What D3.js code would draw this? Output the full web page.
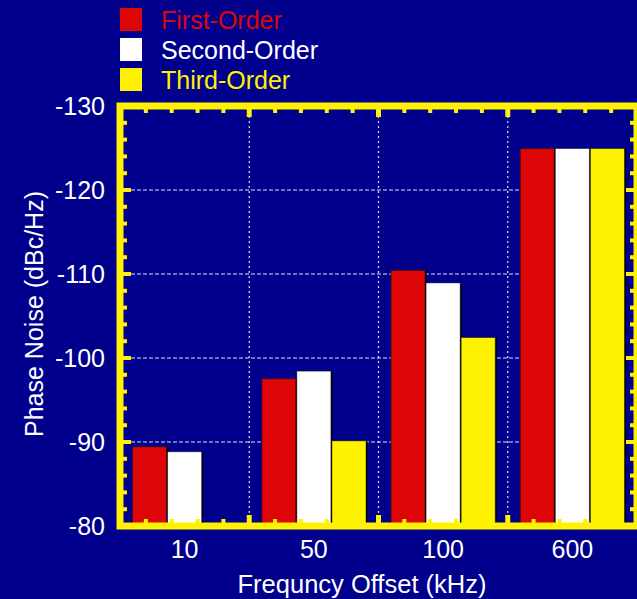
<!DOCTYPE html>
<html>
<head>
<meta charset="utf-8">
<script src="https://cdn.jsdelivr.net/npm/d3@7"></script>
<style>
  html, body { margin: 0; padding: 0; background: #00008C; overflow: hidden; }
  svg { display: block; font-family: "Liberation Sans", Arial, sans-serif; }
</style>
</head>
<body>
<svg id="chart" width="637" height="599"></svg>
<script>
// Phase noise at each frequency offset, by loop order
const offsets = ["10", "50", "100", "600"];
const seriesNames = ["First-Order", "Second-Order", "Third-Order"];
const firstOrder  = [-89.5, -97.6, -110.5, -125];
const secondOrder = [-88.9, -98.5, -109.0, -125];
const thirdOrder  = [null,  -90.2, -102.5, -125];
const yTicks = [-80, -90, -100, -110, -120, -130];

const colors = ["#DD0505", "#FFFFFF", "#FFF200"];
const legendText = ["#DD0505", "#FFFFFF", "#FFF200"];
const seriesValues = [firstOrder, secondOrder, thirdOrder];

const W = 637, H = 599;
const plot = { left: 120, right: 637, top: 106, bottom: 526 };
const svg = d3.select("#chart");

svg.append("rect").attr("width", W).attr("height", H).attr("fill", "#00008C");

const x = d3.scaleBand().domain(offsets).range([plot.left, plot.right]).padding(0);
const band = x.bandwidth();
const xs = d3.scaleBand().domain(seriesNames).range([12, band - 12]).padding(0);
const y = d3.scaleLinear().domain([-80, -130]).range([plot.bottom, plot.top]);

// grid
const grid = svg.append("g");
grid.selectAll("line.h").data(yTicks.filter(t => t !== -80 && t !== -130)).join("line")
  .attr("x1", plot.left + 11).attr("x2", plot.right - 11)
  .attr("y1", d => y(d)).attr("y2", d => y(d))
  .attr("stroke", "#E0E0F0").attr("stroke-width", 1.2).attr("stroke-dasharray", "4,2");
grid.selectAll("line.v").data(offsets.slice(1)).join("line")
  .attr("x1", d => x(d)).attr("x2", d => x(d))
  .attr("y1", plot.top + 10).attr("y2", plot.bottom - 10)
  .attr("stroke", "#E0E0F0").attr("stroke-width", 1.2).attr("stroke-dasharray", "2,3");

// bars
const rows = [];
offsets.forEach((o, i) => seriesNames.forEach((s, j) => {
  const v = seriesValues[j][i];
  if (v !== null) rows.push({ o, s, v, c: colors[j] });
}));
const bars = svg.append("g");
bars.selectAll("rect.shadow").data(rows).join("rect")
  .attr("x", d => x(d.o) + xs(d.s) + 1)
  .attr("y", d => y(d.v) + 1)
  .attr("width", xs.bandwidth())
  .attr("height", d => y(-80) - y(d.v))
  .attr("fill", "#000");
bars.selectAll("rect.bar").data(rows).join("rect")
  .attr("x", d => x(d.o) + xs(d.s) + 0.5)
  .attr("y", d => y(d.v) + 0.5)
  .attr("width", xs.bandwidth() - 1)
  .attr("height", d => y(-80) - y(d.v))
  .attr("fill", d => d.c)
  .attr("stroke", "rgba(0,0,0,0.45)").attr("stroke-width", 1);

// frame and ticks
const yellow = "#FFF200";
const frame = svg.append("g");
const minorY = d3.range(-80, -131, -2);
const minorX = [];
offsets.forEach(o => { for (let k = 1; k < 5; k++) minorX.push(x(o) + band * k / 5); });
const majorX = offsets.slice(1).map(o => x(o));

// left & right ticks
[[plot.left, 1], [plot.right, -1]].forEach(([bx, dir]) => {
  frame.selectAll(null).data(minorY).join("line")
    .attr("x1", bx).attr("x2", d => bx + dir * (d % 10 === 0 ? 11 : 7))
    .attr("y1", d => y(d)).attr("y2", d => y(d))
    .attr("stroke", yellow).attr("stroke-width", 4);
});
// top & bottom ticks
[[plot.top, 1], [plot.bottom, -1]].forEach(([by, dir]) => {
  frame.selectAll(null).data(minorX).join("line")
    .attr("x1", d => d).attr("x2", d => d)
    .attr("y1", by).attr("y2", by + dir * 7)
    .attr("stroke", yellow).attr("stroke-width", 4);
  frame.selectAll(null).data(majorX).join("line")
    .attr("x1", d => d).attr("x2", d => d)
    .attr("y1", by).attr("y2", by + dir * 11)
    .attr("stroke", yellow).attr("stroke-width", 5);
});
frame.append("rect")
  .attr("x", plot.left).attr("y", plot.top)
  .attr("width", plot.right - plot.left).attr("height", plot.bottom - plot.top)
  .attr("fill", "none").attr("stroke", yellow).attr("stroke-width", 7);

// axis labels
const yAxis = d3.axisLeft(y).tickValues(yTicks).tickFormat(d => String(d))
  .tickSize(0).tickPadding(15);
const ya = svg.append("g").attr("transform", `translate(${plot.left},0)`).call(yAxis);
ya.select(".domain").remove();
ya.selectAll("text").attr("fill", "#fff").attr("font-size", 25)
  .attr("font-family", "Liberation Sans, Arial, sans-serif");

const xAxis = d3.axisBottom(x).tickSize(0).tickPadding(14);
const xa = svg.append("g").attr("transform", `translate(0,${plot.bottom})`).call(xAxis);
xa.select(".domain").remove();
xa.selectAll("text").attr("fill", "#fff").attr("font-size", 25)
  .attr("font-family", "Liberation Sans, Arial, sans-serif");

svg.append("text").attr("x", 362).attr("y", 593).attr("text-anchor", "middle")
  .attr("fill", "#fff").attr("font-size", 25.5).text("Frequncy Offset (kHz)");
svg.append("text").attr("transform", "translate(43,314) rotate(-90)")
  .attr("text-anchor", "middle").attr("fill", "#fff").attr("font-size", 25)
  .text("Phase Noise (dBc/Hz)");

// legend
const lg = svg.append("g");
seriesNames.forEach((s, i) => {
  lg.append("rect").attr("x", 120).attr("y", 8 + i * 30).attr("width", 22).attr("height", 23)
    .attr("fill", colors[i]);
  lg.append("text").attr("x", 161).attr("y", 29 + i * 30)
    .attr("fill", legendText[i]).attr("font-size", 25).text(s);
});
</script>
</body>
</html>
